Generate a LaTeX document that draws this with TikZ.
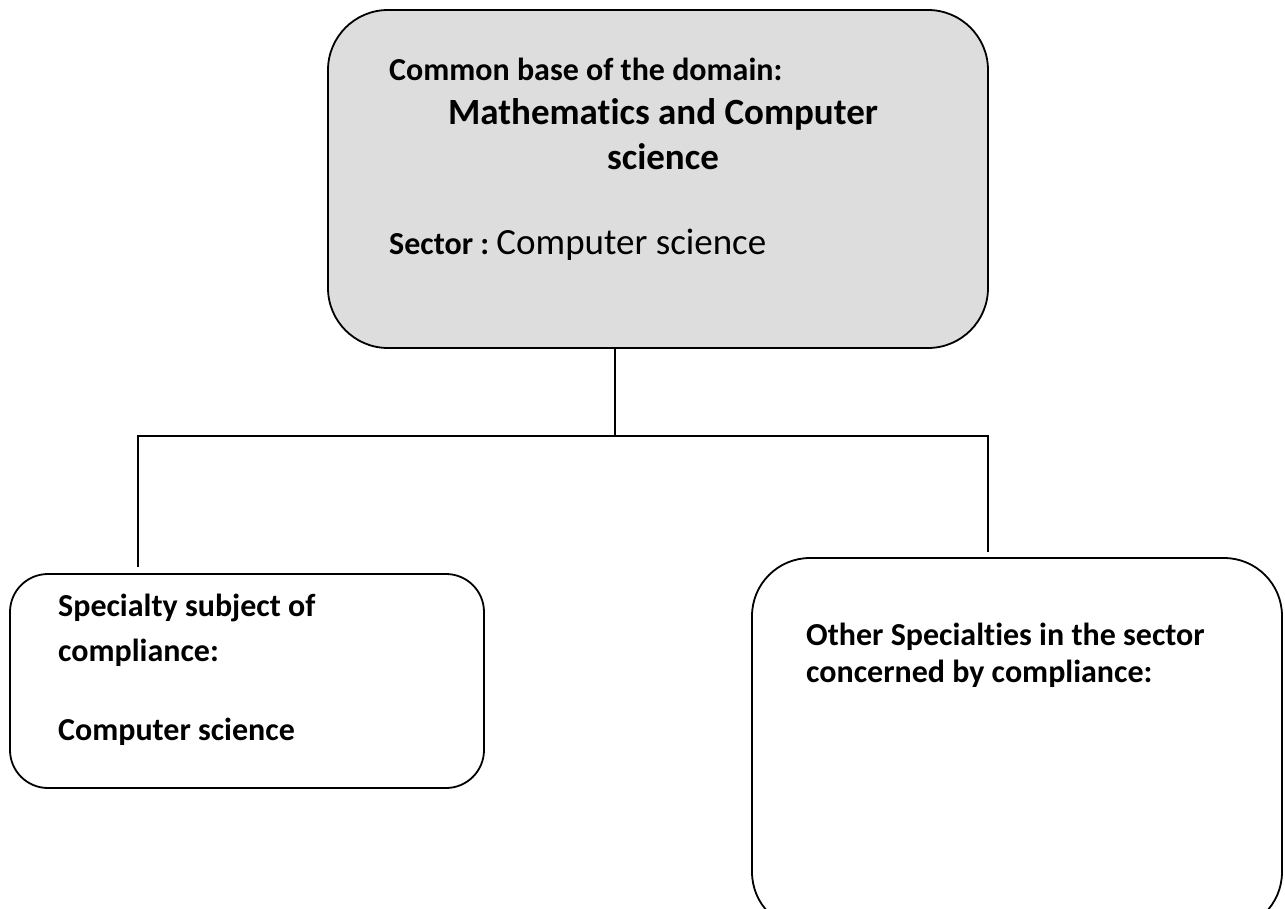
\documentclass[tikz,border=0pt]{standalone}
\usepackage{fontspec}
\setmainfont{Carlito}[Ligatures=NoCommon]
\begin{document}
\begin{tikzpicture}[x=1pt,y=-1pt,
  box/.style={draw=black, line width=1.8pt, rounded corners=#1},
  conn/.style={draw=black, line width=1.4pt},
  txt/.style={anchor=base west, inner sep=0pt, font=\fontsize{32}{38}\selectfont\bfseries},
  bigtxt/.style={anchor=base, inner sep=0pt, font=\fontsize{37}{44}\selectfont\bfseries}
]
\useasboundingbox (0,0) rectangle (1285,908);
\begin{scope}
\clip (0,0) rectangle (1285,908);
\node[box=60pt, fill=gray!27, minimum width=660pt, minimum height=338pt] (top) at (658,179) {};
\node[box=38pt, fill=white, minimum width=474pt, minimum height=214pt] (lb) at (247,681) {};
\node[box=58pt, fill=white, minimum width=530pt, minimum height=372pt] (rb) at (1017,744) {};
\end{scope}

\node[txt] (t1) at (389,80) {Common base of the domain:};
\node[bigtxt] (t2) at (663,124) {Mathematics and Computer};
\node[bigtxt] (t3) at (663,169) {science};
\node[txt] (t4) at (389,254) {Sector :\ \fontsize{37}{44}\selectfont\mdseries Computer science};

\node[txt] (l1) at (58,616) {Specialty subject of};
\node[txt] (l2) at (58,661) {compliance:};
\node[txt] (l3) at (58,740) {Computer science};

\node[txt] (r1) at (806,645) {Other Specialties in the sector};
\node[txt] (r2) at (806,682) {concerned by compliance:};

\coordinate (j) at (615,436);
\coordinate (jl) at (138,436);
\coordinate (jr) at (988,436);
\draw[conn] (top.south -| j) -- (j);
\draw[conn] ([yshift=6pt]lb.north -| jl) -- (jl) -- (jr) -- ([yshift=5pt]rb.north -| jr);
\end{tikzpicture}
\end{document}
